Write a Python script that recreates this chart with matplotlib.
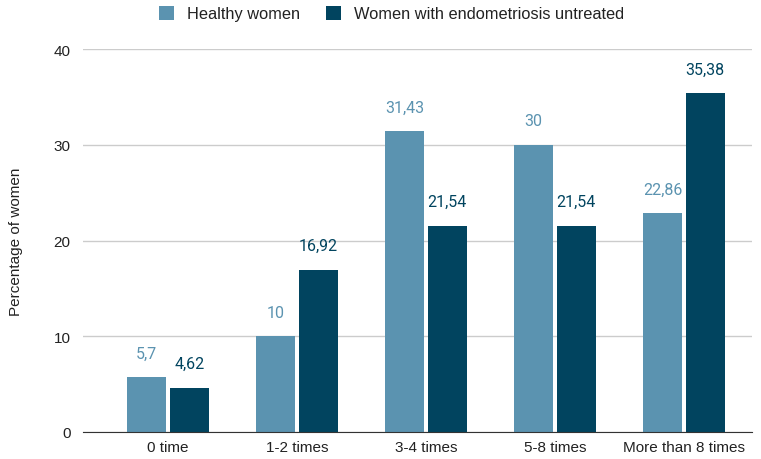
import matplotlib
matplotlib.use("Agg")
import matplotlib.pyplot as plt
import numpy as np

categories = ["0 time", "1-2 times", "3-4 times", "5-8 times", "More than 8 times"]
healthy = [5.7, 10, 31.43, 30, 22.86]
endo = [4.62, 16.92, 21.54, 21.54, 35.38]
healthy_labels = ["5,7", "10", "31,43", "30", "22,86"]
endo_labels = ["4,62", "16,92", "21,54", "21,54", "35,38"]
series_names = ["Healthy women", "Women with endometriosis untreated"]

c_healthy = "#5b93b0"
c_endo = "#01445f"

plt.rcParams["font.family"] = ["Liberation Sans", "DejaVu Sans"]

fig = plt.figure(figsize=(7.61, 4.60), dpi=100)
ax = fig.add_axes([0.109, 0.0587, 0.879, 0.8326])

x = np.arange(len(categories))
w = 0.30
off = 0.165
b1 = ax.bar(x - off, healthy, width=w, color=c_healthy, label=series_names[0], zorder=3)
b2 = ax.bar(x + off, endo, width=w, color=c_endo, label=series_names[1], zorder=3)

for xi, v, t in zip(x - off, healthy, healthy_labels):
    ax.annotate(t, (xi, v), xytext=(0, 12), textcoords="offset points", family="Roboto",
                ha="center", va="bottom", fontsize=11.5, color=c_healthy)
for xi, v, t in zip(x + off, endo, endo_labels):
    ax.annotate(t, (xi, v), xytext=(0, 12), textcoords="offset points", family="Roboto",
                ha="center", va="bottom", fontsize=11.5, color=c_endo)

ax.set_xlim(-0.659, 4.527)
ax.set_ylim(0, 40)
ax.set_yticks([0, 10, 20, 30, 40])
ax.set_xticks(x)
ax.set_xticklabels(categories)
ax.tick_params(axis="both", length=0, labelsize=11, colors="#222222")
ax.tick_params(axis="y", pad=9)
ax.tick_params(axis="x", pad=6)
ax.grid(axis="y", color="#cccccc", linewidth=1, zorder=0)
for s in ["top", "right", "left"]:
    ax.spines[s].set_visible(False)
ax.spines["bottom"].set_color("#333333")
ax.spines["bottom"].set_zorder(4)
ax.set_ylabel("Percentage of women", fontsize=11, color="#222222", labelpad=22)

fig.legend(handles=[b1, b2], labels=series_names, loc="center", bbox_to_anchor=(0.5145, 0.968),
           ncol=2, frameon=False, fontsize=11.8, handlelength=0.92, handleheight=0.92,
           columnspacing=1.55, handletextpad=0.8, labelcolor="#222222")

fig.savefig("out.png", dpi=100)
